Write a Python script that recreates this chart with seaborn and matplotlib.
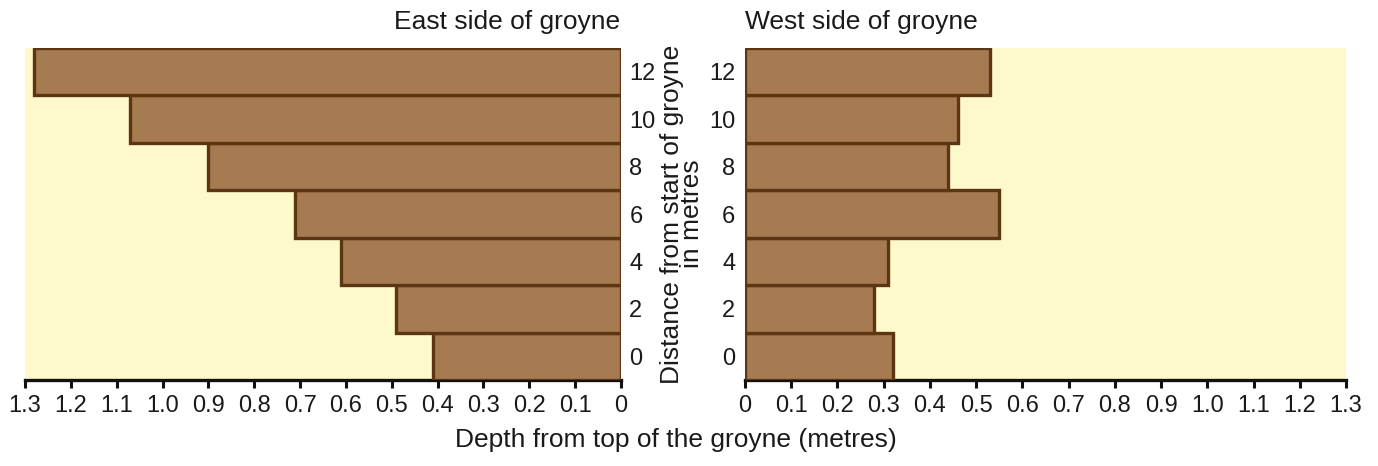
import matplotlib
matplotlib.use("Agg")
import matplotlib.pyplot as plt
import seaborn as sns
import pandas as pd

# distance from start of groyne (m) and depth from top of groyne (m)
distance = [0, 2, 4, 6, 8, 10, 12]
east_depth = [0.41, 0.49, 0.61, 0.71, 0.90, 1.07, 1.28]
west_depth = [0.32, 0.28, 0.31, 0.55, 0.44, 0.46, 0.53]
depth_ticks = [0, 0.1, 0.2, 0.3, 0.4, 0.5, 0.6, 0.7, 0.8, 0.9, 1.0, 1.1, 1.2, 1.3]

east = pd.DataFrame({"distance": distance, "depth": east_depth})
west = pd.DataFrame({"distance": distance, "depth": west_depth})

sns.set_style("white")
plt.rcParams["font.family"] = ["Liberation Sans", "DejaVu Sans"]

fill = "#A67B51"
edge = "#5C3513"
bg = "#FEF9CA"
txt = "#1a1a1a"

fig = plt.figure(figsize=(13.78, 4.66), dpi=100)
ax_e = fig.add_axes([25 / 1378, 86 / 466, 596 / 1378, 332 / 466])
ax_w = fig.add_axes([745 / 1378, 86 / 466, 601 / 1378, 332 / 466])

for ax, df in [(ax_e, east), (ax_w, west)]:
    ax.set_facecolor(bg)
    sns.barplot(data=df, x="depth", y="distance", orient="h", native_scale=True,
                width=1.0, color=fill, saturation=1, edgecolor=edge, linewidth=2.4,
                ax=ax, zorder=3)
    ax.set_ylim(-1, 13)
    ax.set_yticks(distance)
    ax.set_yticklabels([str(d) for d in distance])
    ax.set_xticks(depth_ticks)
    ax.set_xticklabels(["0"] + ["%.1f" % t for t in depth_ticks[1:]])
    ax.set_xlabel("")
    ax.set_ylabel("")
    for s in ["top", "left", "right"]:
        ax.spines[s].set_visible(False)
    ax.spines["bottom"].set_color("#111111")
    ax.spines["bottom"].set_linewidth(2.4)
    ax.tick_params(axis="x", direction="out", length=6, width=2.2, color="#111111",
                   labelsize=17, labelcolor=txt, pad=5, bottom=True)
    ax.tick_params(axis="y", length=0, labelsize=17, labelcolor=txt)

ax_e.set_xlim(1.3, 0)
ax_e.yaxis.tick_right()
ax_e.tick_params(axis="y", pad=6)
for lab in ax_e.get_yticklabels():
    lab.set_horizontalalignment("left")

ax_w.set_xlim(0, 1.3)
ax_w.tick_params(axis="y", pad=7)

fig.text(620 / 1378, 1 - 22 / 466, "East side of groyne", ha="right", va="center",
         fontsize=19, color=txt)
fig.text(745 / 1378, 1 - 22 / 466, "West side of groyne", ha="left", va="center",
         fontsize=19, color=txt)
fig.text(682 / 1378, 1 - 214 / 466, "Distance from start of groyne\nin metres", rotation=90,
         ha="center", va="center", ma="center", fontsize=19, linespacing=0.75, color=txt)
fig.text(676 / 1378, 1 - 440 / 466, "Depth from top of the groyne (metres)", ha="center",
         va="center", fontsize=19, color=txt)

fig.savefig("out.png", dpi=100)
